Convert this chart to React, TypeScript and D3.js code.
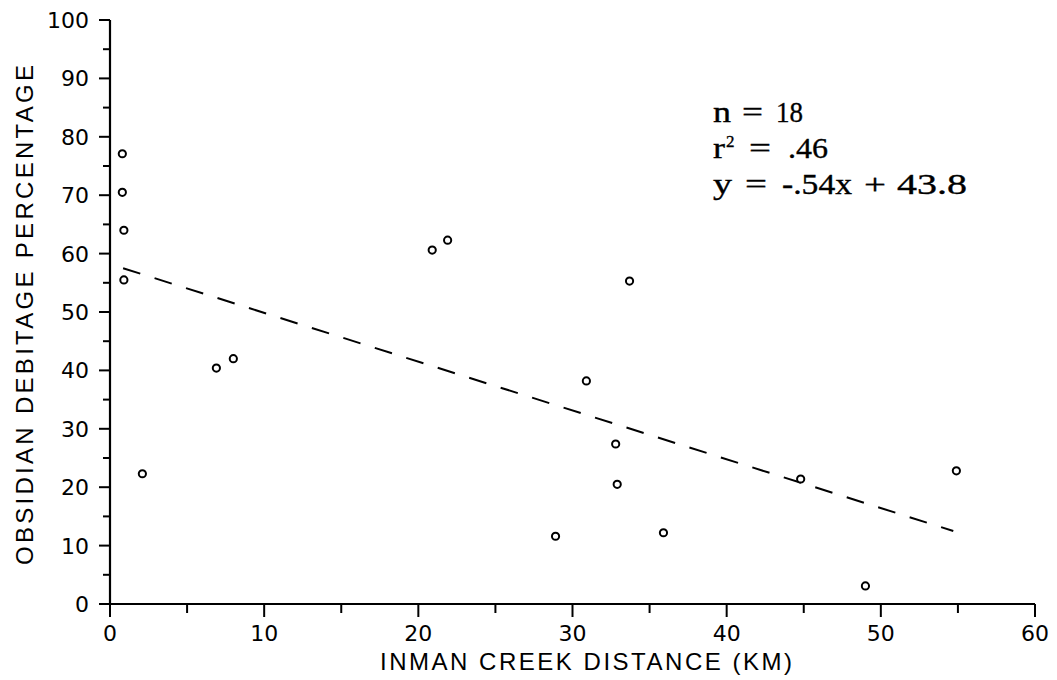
import { useEffect, useRef } from 'react'
import * as d3 from 'd3'

const WIDTH = 1057
const HEIGHT = 680

const distanceKm = [0.8, 0.8, 0.9, 0.9, 2.1, 6.9, 8.0, 20.9, 21.9, 33.7, 30.9, 32.8, 32.9, 28.9, 35.9, 44.8, 49.0, 54.9]
const obsidianPct = [77.1, 70.5, 64.0, 55.5, 22.3, 40.4, 42.0, 60.6, 62.3, 55.3, 38.2, 27.4, 20.5, 11.6, 12.2, 21.4, 3.1, 22.8]

// fitted line as drawn
const fitX = [0.85, 54.7]
const fitY = [57.5, 12.5]

const xTicks = [0, 10, 20, 30, 40, 50, 60]
const xMinorTicks = [5, 15, 25, 35, 45, 55]
const yTicks = [0, 10, 20, 30, 40, 50, 60, 70, 80, 90, 100]
const yMinorTicks = [5, 15, 25, 35, 45, 55, 65, 75, 85, 95]

export default function App() {
  const svgRef = useRef<SVGSVGElement>(null)

  useEffect(() => {
    if (!svgRef.current) return
    const svg = d3.select(svgRef.current)
    svg.selectAll('*').remove()

    const x = d3.scaleLinear().domain([0, 60]).range([110, 1035])
    const y = d3.scaleLinear().domain([0, 100]).range([604, 20])

    const g = svg.append('g')
    const sans = '"DejaVu Sans", "Liberation Sans", sans-serif'
    const sans2 = '"Liberation Sans", Arial, sans-serif'

    // axes lines
    g.append('line')
      .attr('x1', x(0)).attr('x2', x(60))
      .attr('y1', y(0)).attr('y2', y(0))
      .attr('stroke', '#000').attr('stroke-width', 2.2)
    g.append('line')
      .attr('x1', x(0)).attr('x2', x(0))
      .attr('y1', y(0)).attr('y2', y(100))
      .attr('stroke', '#000').attr('stroke-width', 2.2)

    // x ticks
    g.selectAll('.xt').data(xTicks).enter().append('line')
      .attr('x1', d => x(d)).attr('x2', d => x(d))
      .attr('y1', y(0)).attr('y2', y(0) + 13)
      .attr('stroke', '#000').attr('stroke-width', 2)
    g.selectAll('.xm').data(xMinorTicks).enter().append('line')
      .attr('x1', d => x(d)).attr('x2', d => x(d))
      .attr('y1', y(0)).attr('y2', y(0) + 9)
      .attr('stroke', '#000').attr('stroke-width', 2)
    g.selectAll('.xl').data(xTicks).enter().append('text')
      .attr('x', d => x(d)).attr('y', 641)
      .attr('text-anchor', 'middle')
      .attr('font-family', sans).attr('font-size', 22)
      .text(d => d)

    // y ticks
    g.selectAll('.yt').data(yTicks).enter().append('line')
      .attr('x1', x(0) - 11).attr('x2', x(0))
      .attr('y1', d => y(d)).attr('y2', d => y(d))
      .attr('stroke', '#000').attr('stroke-width', 2)
    g.selectAll('.ym').data(yMinorTicks).enter().append('line')
      .attr('x1', x(0) - 7).attr('x2', x(0))
      .attr('y1', d => y(d)).attr('y2', d => y(d))
      .attr('stroke', '#000').attr('stroke-width', 2)
    g.selectAll('.yl').data(yTicks).enter().append('text')
      .attr('x', 89).attr('y', d => y(d) + 8)
      .attr('text-anchor', 'end')
      .attr('font-family', sans).attr('font-size', 22)
      .text(d => d)

    // axis titles
    g.append('text')
      .attr('x', 586).attr('y', 670)
      .attr('text-anchor', 'middle')
      .attr('font-family', sans2).attr('font-size', 24)
      .attr('textLength', 412).attr('lengthAdjust', 'spacing')
      .text('INMAN CREEK DISTANCE (KM)')
    g.append('text')
      .attr('transform', 'translate(33,315) rotate(-90)')
      .attr('text-anchor', 'middle')
      .attr('font-family', sans2).attr('font-size', 24)
      .attr('textLength', 500).attr('lengthAdjust', 'spacing')
      .text('OBSIDIAN DEBITAGE PERCENTAGE')

    // regression line
    g.append('line')
      .attr('x1', x(fitX[0])).attr('y1', y(fitY[0]))
      .attr('x2', x(fitX[1])).attr('y2', y(fitY[1]))
      .attr('stroke', '#000').attr('stroke-width', 2)
      .attr('stroke-dasharray', '18 15')

    // points
    g.selectAll('circle')
      .data(distanceKm.map((d, i) => [d, obsidianPct[i]]))
      .enter()
      .append('circle')
      .attr('cx', d => x(d[0]))
      .attr('cy', d => y(d[1]))
      .attr('r', 3.6)
      .attr('fill', '#fff')
      .attr('stroke', '#000')
      .attr('stroke-width', 2)

    // stats block: each token placed and stretched to the scan's wide type
    const serif = '"Liberation Serif", "Times New Roman", serif'
    const t = g.append('g')
      .attr('font-family', serif).attr('font-size', 30)
      .attr('stroke', '#000').attr('stroke-width', 0.35)

    const token = (sel: any, x0: number, w: number, s: string) =>
      sel.append('tspan').attr('x', x0).attr('textLength', w)
        .attr('lengthAdjust', 'spacingAndGlyphs').text(s)

    const l1 = t.append('text').attr('y', 122)
    token(l1, 713, 18, 'n')
    token(l1, 742, 21, '=')
    token(l1, 776, 27, '18')

    const l2 = t.append('text').attr('y', 158)
    token(l2, 713, 12, 'r')
    l2.append('tspan').attr('x', 726).attr('dy', -11).attr('font-size', 17).text('2')
    l2.append('tspan').attr('x', 749).attr('dy', 11).attr('textLength', 22)
      .attr('lengthAdjust', 'spacingAndGlyphs').text('=')
    token(l2, 788, 40, '.46')

    const l3 = t.append('text').attr('y', 194)
    token(l3, 713, 19, 'y')
    token(l3, 745, 22, '=')
    token(l3, 782, 70, '-.54x')
    token(l3, 864, 22, '+')
    token(l3, 897, 70, '43.8')
  }, [])

  return (
    <svg
      ref={svgRef}
      width={WIDTH}
      height={HEIGHT}
      style={{ position: 'absolute', left: 0, top: 0, background: '#fff', display: 'block' }}
    />
  )
}
